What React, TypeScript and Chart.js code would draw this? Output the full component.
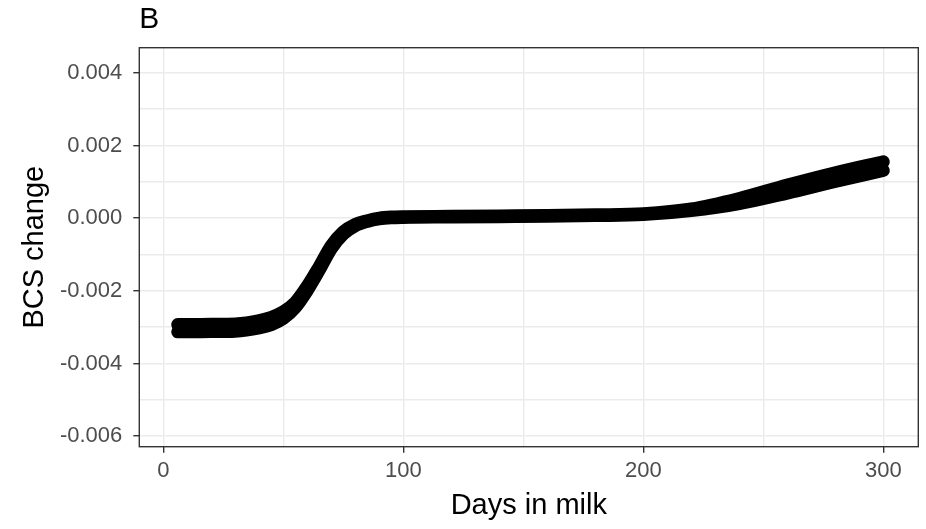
import React, { useEffect, useRef } from "react";
import { Chart, registerables } from "chart.js";

Chart.register(...registerables);

const days = [6, 10, 20, 30, 40, 45, 50, 55, 60, 65, 70, 75, 80, 85, 90, 95, 100, 120, 140, 160, 180, 200, 220, 240, 260, 280, 300];
const upper = [-0.00293, -0.00293, -0.00292, -0.00291, -0.00282, -0.00273, -0.00258, -0.00232, -0.00187, -0.00133, -0.00076, -0.00038, -0.00017, -0.00007, 0.0, 0.00003, 0.00004, 0.00005, 0.00006, 0.00007, 0.00009, 0.00012, 0.00025, 0.00054, 0.00091, 0.00125, 0.00155];
const lower = [-0.00313, -0.00313, -0.00312, -0.00311, -0.00302, -0.00293, -0.00276, -0.00246, -0.00199, -0.00143, -0.00084, -0.00044, -0.00021, -0.00009, -0.00002, 0.00001, 0.00002, 0.00003, 0.00004, 0.00005, 0.00007, 0.0001, 0.00021, 0.0004, 0.00069, 0.00101, 0.00131];

const xTicks = [0, 50, 100, 150, 200, 250, 300];
const xLabels = [0, 100, 200, 300];
const yTicks = [-0.006, -0.005, -0.004, -0.003, -0.002, -0.001, 0, 0.001, 0.002, 0.003, 0.004];
const yLabels = [-0.006, -0.004, -0.002, 0, 0.002, 0.004];

const panelTitle = "B";
const xTitle = "Days in milk";
const yTitle = "BCS change";

const FONT = "'Liberation Sans', Arial, sans-serif";

const isLabel = (list: number[], v: number) => list.some((l) => Math.abs(l - v) < 1e-9);

const frame = {
  id: "frame",
  afterDraw(chart: any) {
    const { ctx, chartArea } = chart;
    ctx.save();
    ctx.strokeStyle = "#333333";
    ctx.lineWidth = 1.4;
    ctx.strokeRect(chartArea.left, chartArea.top, chartArea.right - chartArea.left, chartArea.bottom - chartArea.top);
    ctx.fillStyle = "#000000";
    ctx.font = `30px ${FONT}`;
    ctx.textBaseline = "alphabetic";
    ctx.textAlign = "left";
    ctx.fillText(panelTitle, chartArea.left, 27.5);
    ctx.restore();
  },
};

export default function App() {
  const ref = useRef<HTMLCanvasElement | null>(null);
  useEffect(() => {
    document.body.style.margin = "0";
    const pts = (arr: number[]) => days.map((d, i) => ({ x: d, y: arr[i] }));
    const chart = new Chart(ref.current as HTMLCanvasElement, {
      type: "line",
      data: {
        datasets: [
          {
            data: pts(upper),
            borderColor: "#000000",
            backgroundColor: "#000000",
            borderWidth: 13,
            borderCapStyle: "round",
            borderJoinStyle: "round",
            pointRadius: 0,
            cubicInterpolationMode: "monotone",
            fill: false,
          },
          {
            data: pts(lower),
            borderColor: "#000000",
            backgroundColor: "#000000",
            borderWidth: 13,
            borderCapStyle: "round",
            borderJoinStyle: "round",
            pointRadius: 0,
            cubicInterpolationMode: "monotone",
            fill: "-1",
          },
        ],
      },
      options: {
        responsive: false,
        animation: false,
        events: [],
        layout: { padding: { top: 47.7, right: 7.7, bottom: 0, left: 0 } },
        plugins: { legend: { display: false }, tooltip: { enabled: false }, title: { display: false } },
        scales: {
          x: {
            type: "linear",
            min: -10,
            max: 314.6,
            afterBuildTicks: (s: any) => {
              s.ticks = xTicks.map((v) => ({ value: v }));
            },
            afterFit: (s: any) => {
              s.height = 82.3;
            },
            ticks: {
              autoSkip: false,
              maxRotation: 0,
              padding: 5,
              color: "#4D4D4D",
              font: { family: FONT, size: 22 },
              callback: (v: any) => (isLabel(xLabels, Number(v)) ? String(v) : ""),
            },
            grid: {
              color: "#EBEBEB",
              lineWidth: 1.4,
              tickLength: 6,
              tickColor: (c: any) => (c.tick && isLabel(xLabels, c.tick.value) ? "#333333" : "rgba(0,0,0,0)"),
              tickWidth: 1.4,
            },
            border: { display: false },
            title: {
              display: true,
              text: xTitle,
              color: "#000000",
              font: { family: FONT, size: 29 },
              padding: { top: 0, bottom: 6 },
            },
          },
          y: {
            type: "linear",
            min: -0.00629,
            max: 0.00469,
            afterBuildTicks: (s: any) => {
              s.ticks = yTicks.map((v) => ({ value: v }));
            },
            afterFit: (s: any) => {
              s.width = 139.3;
            },
            ticks: {
              autoSkip: false,
              padding: 11,
              color: "#4D4D4D",
              font: { family: FONT, size: 22 },
              callback: (v: any) => (isLabel(yLabels, Number(v)) ? Number(v).toFixed(3) : ""),
            },
            grid: {
              color: "#EBEBEB",
              lineWidth: 1.4,
              tickLength: 6,
              tickColor: (c: any) => (c.tick && isLabel(yLabels, c.tick.value) ? "#333333" : "rgba(0,0,0,0)"),
              tickWidth: 1.4,
            },
            border: { display: false },
            title: {
              display: true,
              text: yTitle,
              color: "#000000",
              font: { family: FONT, size: 29 },
              padding: { top: 18, bottom: 0 },
            },
          },
        },
      },
      plugins: [frame],
    });
    return () => chart.destroy();
  }, []);
  return (
    <div style={{ position: "absolute", left: 0, top: 0, width: 926, height: 529, background: "#ffffff" }}>
      <canvas ref={ref} width={926} height={529} />
    </div>
  );
}
